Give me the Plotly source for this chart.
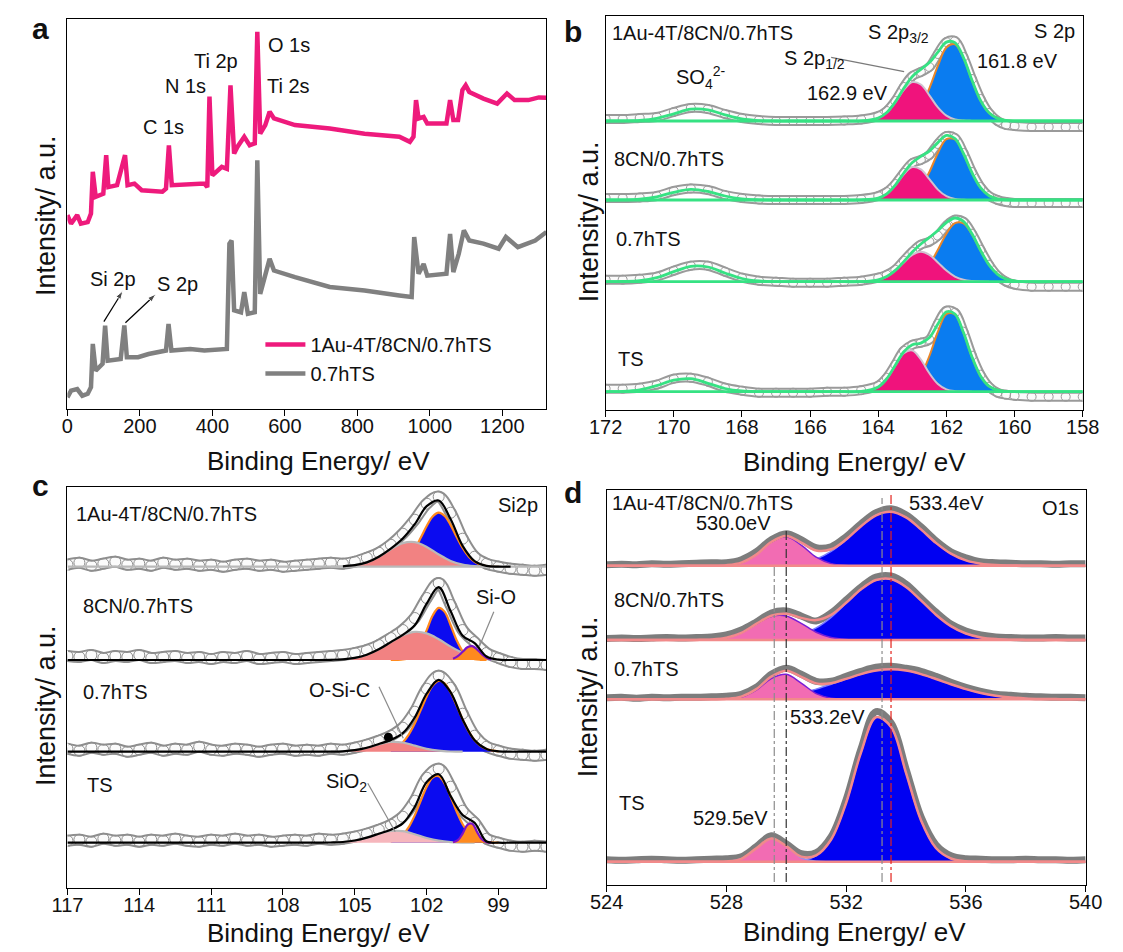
import plotly.graph_objects as go

W, H = 1123, 952
FONT = "Liberation Sans, Arial, Helvetica, sans-serif"

# ---------------- Panel a : survey spectra ----------------
a_be_1au = [0, 10, 27, 37, 56, 65, 70, 78, 99, 107, 113, 137, 159, 166, 185, 205, 262, 272, 280, 288,
            378, 386, 392, 400, 426, 440, 450, 460, 469, 488, 503, 517, 524, 532, 546, 558, 570, 628, 724, 820,
            916, 945, 955, 962, 969, 983, 993, 1046, 1056, 1065, 1078, 1090, 1099, 1109, 1148, 1186, 1213, 1234,
            1272, 1301, 1322]
a_int_1au = [49.7, 47.5, 49.7, 47.5, 47.9, 50.1, 60.8, 54.4, 55.2, 65.1, 56.9, 57.4, 65.1, 57.4, 57.8, 56.1,
             55.7, 56.5, 67.6, 57.4, 57.8, 56.9, 80.1, 59.9, 62.1, 61.6, 83.0, 65.5, 67.2, 69.8, 67.6, 68.1,
             96.7, 70.6, 72.8, 76.2, 74.5, 72.8, 71.9, 70.6, 69.8, 68.5, 69.8, 79.2, 74.5, 74.9, 73.2, 73.2,
             79.2, 74.1, 74.1, 81.8, 83.0, 81.3, 79.6, 78.3, 80.9, 79.2, 79.2, 79.9, 79.8]
a_be_07 = [0, 10, 27, 41, 56, 65, 70, 78, 97, 104, 111, 147, 157, 164, 195, 224, 272, 279, 287, 339,
           378, 440, 447, 453, 460, 479, 488, 498, 517, 524, 532, 543, 558, 570, 628, 724, 820, 916, 950, 957,
           969, 983, 993, 1046, 1056, 1065, 1080, 1094, 1109, 1148, 1190, 1210, 1243, 1291, 1322]
a_int_07 = [3.0, 4.7, 5.1, 3.4, 3.9, 5.6, 16.7, 9.8, 11.6, 21.4, 12.4, 12.8, 21.4, 13.3, 13.3, 14.1, 15.0,
            21.8, 15.0, 15.4, 15.0, 15.4, 42.4, 43.2, 25.3, 24.8, 30.0, 24.4, 24.8, 63.8, 29.5, 33.8, 38.5,
            35.5, 33.8, 31.3, 30.4, 29.1, 28.7, 44.1, 34.7, 37.2, 34.2, 34.7, 44.9, 35.1, 39.8, 45.8, 43.2,
            42.4, 41.1, 44.1, 41.5, 43.2, 45.4]
a_names = ["1Au-4T/8CN/0.7hTS", "0.7hTS"]
a_ticks = [0, 200, 400, 600, 800, 1000, 1200]
# pointer arrows (Si 2p, S 2p): tail and head in axis units
a_arrow_tail_x = [100.6, 160.0]
a_arrow_tail_y = [22.4, 22.1]
a_arrow_head_x = [153.3, 244.6]
a_arrow_head_y = [30.3, 29.5]

# ---------------- Panel b : S 2p ----------------
b_be = [172, 171.5, 171, 170.5, 170, 169.5, 169, 168.5, 168, 167.5, 167, 166.5, 166, 165.5, 165,
        164.5, 164, 163.75, 163.5, 163.25, 163, 162.75, 162.5, 162.25, 162, 161.75, 161.5, 161.25,
        161, 160.75, 160.5, 160.25, 160, 159.5, 159, 158.5, 158]
b_comp_be = [164.5, 164.25, 164, 163.75, 163.5, 163.25, 163, 162.75, 162.5, 162.25, 162, 161.75, 161.5,
             161.25, 161, 160.75, 160.5, 160.25, 160]
b_labels = ["TS", "0.7hTS", "8CN/0.7hTS", "1Au-4T/8CN/0.7hTS"]
b_offset = [18.3, 128.3, 210.0, 289.0]
b_data_ts = [3, 3, 4, 7, 13, 14, 10, 4, 1, -1, -1, -1, -1, 0, 0,
             1.5, 6, 14, 27, 41, 47, 49, 52, 68, 81, 79, 60, 36, 17, 5, -1, -3, -4, -5, -5, -5, -5]
b_data_07 = [2, 2, 3, 5, 11, 16, 16, 10, 4, 1, 0, -1, -1, -1, 0,
             1, 4, 7, 12, 21, 30, 37, 40, 46, 56, 62, 60, 48, 32, 17, 6, 0, -3, -5, -5, -5, -5]
b_data_8cn = [2, 2, 2.5, 4, 9, 11.5, 10, 5, 2, 0.5, 0, 0, 0, 0, 0,
              1, 4, 8, 16, 27, 37, 40, 45, 56, 64, 62, 47, 28, 13, 4, 0, -2, -3, -3, -3, -3, -3]
b_data_1au = [2, 2, 3, 4, 9, 13, 12, 7, 3, 1, 0, 0, 0, 0, 0.5,
              1.5, 5, 10, 20, 34, 45, 49, 54, 67, 79, 80, 64, 42, 22, 8, 0, -4, -5, -6, -6, -6, -6]
b_fit_ts = [0, 0.3, 1.9, 6.1, 11.6, 13.0, 8.4, 3.2, 0.7, 0.1, 0, 0, 0, 0, 0,
            0.2, 4.7, 13.0, 26.5, 40.0, 47.0, 48.6, 54.1, 67.7, 79.9, 77.7, 59.1, 34.8, 15.8, 5.5, 1.5, 0.3, 0, 0, 0, 0, 0]
b_fit_07 = [0, 0.2, 1, 4, 10, 15.4, 14.7, 8.7, 3.2, 0.7, 0.1, 0, 0, 0, 0,
            0.1, 1.9, 5.1, 11.3, 20.1, 29.7, 37.7, 44.2, 51.2, 59.1, 63.7, 60.3, 47.9, 31.4, 16.8, 7.4, 2.6, 0.8, 0, 0, 0, 0]
b_fit_8cn = [0, 0.1, 0.8, 3.2, 7.7, 10.7, 8.6, 4.0, 1.1, 0.2, 0, 0, 0, 0, 0,
             0.1, 1.9, 6.2, 14.9, 27.0, 37.4, 43.6, 48.9, 57.4, 64.6, 61.5, 46.5, 27.3, 12.4, 4.3, 1.2, 0.2, 0, 0, 0, 0, 0]
b_fit_1au = [0, 0.1, 0.5, 2.6, 7.2, 11.8, 11.2, 6.2, 2.0, 0.4, 0, 0, 0, 0, 0,
             0.1, 2.9, 8.5, 19.1, 32.7, 44.5, 51.7, 58.4, 68.9, 78.9, 78.4, 63.4, 40.8, 20.6, 8.2, 2.6, 0.6, 0.1, 0, 0, 0, 0]
b_p12_ts = [0.2, 1.3, 4.7, 13.0, 26.2, 38.4, 41.2, 32.2, 18.4, 7.7, 2.3, 0.5, 0.1, 0, 0, 0, 0, 0, 0]
b_p32_ts = [0, 0, 0, 0.1, 0.3, 1.6, 5.8, 16.4, 35.7, 60.0, 77.6, 77.2, 59.1, 34.8, 15.8, 5.5, 1.5, 0.3, 0]
b_p12_07 = [0.1, 0.6, 1.9, 5.1, 11.1, 19.3, 26.9, 30.0, 26.9, 19.3, 11.1, 5.1, 1.9, 0.6, 0.1, 0, 0, 0, 0]
b_p32_07 = [0, 0, 0, 0, 0.2, 0.8, 2.8, 7.7, 17.3, 31.9, 48.0, 58.6, 58.4, 47.3, 31.3, 16.8, 7.4, 2.6, 0.8]
b_p12_8cn = [0.1, 0.4, 1.9, 6.1, 14.7, 25.7, 32.9, 30.7, 20.9, 10.4, 3.8, 1.0, 0.2, 0, 0, 0, 0, 0, 0]
b_p32_8cn = [0, 0, 0, 0.1, 0.2, 1.3, 4.5, 12.9, 28.0, 47.0, 60.8, 60.5, 46.3, 27.3, 12.4, 4.3, 1.2, 0.2, 0]
b_p12_1au = [0.1, 0.7, 2.9, 8.4, 18.7, 31.1, 38.9, 36.5, 25.7, 13.6, 5.4, 1.6, 0.4, 0.1, 0, 0, 0, 0, 0]
b_p32_1au = [0, 0, 0, 0.1, 0.4, 1.6, 5.6, 15.2, 32.7, 55.3, 73.5, 76.8, 63.0, 40.7, 20.6, 8.2, 2.6, 0.6, 0.1]
b_ticks = [172, 170, 168, 166, 164, 162, 160, 158]

# ---------------- Panel c : Si 2p ----------------
c_be = [117, 116.5, 116, 115.5, 115, 114.5, 114, 113.5, 113, 112.5, 112, 111.5, 111, 110.5, 110, 109.5,
        109, 108.5, 108, 107.5, 107, 106.5, 106, 105.5, 105, 104.5, 104, 103.5, 103, 102.5, 102, 101.5,
        101, 100.5, 100, 99.5, 99, 98.5, 98, 97.5, 97]
c_pink_be = [106, 105.5, 105, 104.5, 104, 103.5, 103, 102.5, 102, 101.5, 101, 100.5, 100, 99.5, 99]
c_blue_be = [103.5, 103.25, 103, 102.75, 102.5, 102.25, 102, 101.75, 101.5, 101.25, 101, 100.75, 100.5,
             100.25, 100, 99.75, 99.5, 99.25, 99]
c_sio_be = [100.9, 100.7, 100.5, 100.3, 100.1, 99.9, 99.7, 99.5, 99.3]
c_labels = ["TS", "0.7hTS", "8CN/0.7hTS", "1Au-4T/8CN/0.7hTS"]
c_offset = [45.3, 136.3, 228.0, 321.3]
c_data_ts = [2, 3, 1, 4, 2, 3, 1, 3, 2, 4, 2, 1, 3, 2, 4, 2, 3, 1, 2, 3, 2, 4, 3,
             4, 6, 9, 13, 18, 26, 42, 65, 74, 56, 32, 20, 4, 0, -3, -4, -3, -4]
c_data_07 = [3, 1, 4, 2, 3, 0, 2, 4, 1, 3, 2, 5, 2, 1, 3, 2, 0, 2, 3, 1, 2, 1, 3,
             2, 4, 7, 11, 16, 24, 40, 63, 76, 64, 38, 16, 5, 1, -2, -3, -4, -3]
c_data_8cn = [4, 3, 5, 2, 4, 3, 5, 2, 3, 4, 2, 3, 1, 3, 2, 4, 1, 2, 3, 1, 2, 3, 4,
              5, 7, 10, 15, 22, 30, 42, 62, 77, 55, 30, 18, 7, 2, -2, -4, -4, -5]
c_data_1au = [2, 4, 1, 3, 5, 2, 3, 1, 4, 2, 3, 1, 2, 0, 2, 3, 1, 2, 0, 1, 2, 3, 4,
              3, 5, 9, 14, 22, 33, 47, 63, 70, 54, 28, 10, 3, 0, -2, -3, -4, -3]
c_fit_ts = [0, 0, 0, 0, 0, 0, 0, 0, 0, 0, 0, 0, 0, 0, 0, 0, 0, 0, 0, 0, 0, 0, 0.2,
            0.7, 2.2, 5.1, 9.0, 13.0, 19.3, 35.8, 60.6, 68.4, 46.6, 27.7, 19.9, 1.2, 0, 0, 0, 0, 0]
c_fit_07 = [0, 0, 0, 0, 0, 0, 0, 0, 0, 0, 0, 0, 0, 0, 0, 0, 0, 0, 0, 0, 0, 0, 0.1,
            0.4, 1.5, 3.9, 7.7, 11.8, 18.5, 34.2, 58.2, 71.9, 59.4, 32.3, 11.5, 2.7, 0.4, 0, 0, 0, 0]
c_fit_8cn = [0, 0, 0, 0, 0, 0, 0, 0, 0, 0, 0, 0, 0, 0, 0, 0, 0, 0, 0, 0, 0, 0, 0.2,
             0.7, 2.2, 5.3, 10.7, 17.9, 25.2, 34.7, 56.4, 72.9, 48.8, 24.3, 16.8, 3.5, 0.3, 0, 0, 0, 0]
c_fit_1au = [0, 0, 0, 0, 0, 0, 0, 0, 0, 0, 0, 0, 0, 0, 0, 0, 0, 0, 0, 0, 0, 0, 0.1,
             0.4, 1.5, 4.3, 10.0, 18.1, 28.2, 42.5, 60.5, 66.2, 47.4, 20.8, 5.5, 0.8, 0, 0, 0, 0, 0]
c_sio2_ts = [0.2, 0.7, 2.2, 5.1, 8.9, 11.7, 11.5, 8.5, 4.7, 2.0, 0.6, 0.1, 0, 0, 0]
c_sio2_07 = [0.1, 0.4, 1.5, 3.9, 7.4, 9.8, 9.2, 6.1, 2.9, 1.0, 0.2, 0, 0, 0, 0]
c_sio2_8cn = [0.2, 0.7, 2.2, 5.3, 10.7, 17.9, 24.7, 28.2, 26.6, 20.8, 13.4, 7.2, 3.2, 1.2, 0.3]
c_sio2_1au = [0.1, 0.4, 1.5, 4.3, 9.9, 17.4, 23.6, 24.6, 19.8, 12.2, 5.8, 2.1, 0.6, 0.1, 0]
c_sic_ts = [1.3, 3.4, 7.8, 15.6, 27.3, 41.8, 55.9, 65.2, 66.4, 59.1, 46.0, 31.2, 18.5, 9.6, 4.3, 1.7, 0.6, 0.2, 0]
c_sic_07 = [2.0, 4.6, 9.3, 17.1, 28.1, 41.6, 55.3, 66.1, 70.9, 68.4, 59.2, 46.1, 32.3, 20.3, 11.5, 5.8, 2.7, 1.1, 0.4]
c_sic_8cn = [0, 0.1, 0.5, 2.1, 6.5, 15.7, 29.8, 44.5, 52.1, 48.1, 34.8, 19.8, 8.9, 3.1, 0.9, 0.2, 0, 0, 0]
c_sic_1au = [0.7, 1.9, 4.6, 9.7, 17.9, 28.9, 40.7, 50.2, 54.0, 50.7, 41.6, 29.8, 18.7, 10.2, 4.9, 2.0, 0.7, 0.2, 0]
c_sio_ts = [0.4, 2.5, 9.1, 17.9, 19.0, 10.9, 3.4, 0.6, 0]
c_sio_8cn = [1.2, 3.8, 8.2, 12.7, 13.8, 10.7, 5.9, 2.3, 0.6]
c_osic_point = [103.6, 14.4]
c_ticks = [117, 114, 111, 108, 105, 102, 99]

# ---------------- Panel d : O 1s ----------------
d_be = [524, 524.5, 525, 525.5, 526, 526.5, 527, 527.5, 528, 528.5, 529, 529.5, 530, 530.5, 531, 531.5,
        532, 532.5, 533, 533.5, 534, 534.5, 535, 535.5, 536, 536.5, 537, 537.5, 538, 538.5, 539, 539.5, 540]
d_pink_be = [527, 527.5, 528, 528.5, 529, 529.5, 530, 530.5, 531, 531.5, 532, 532.5]
d_blue_be = [527.5, 528, 528.5, 529, 529.5, 530, 530.5, 531, 531.5, 532, 532.5, 533, 533.5, 534, 534.5,
             535, 535.5, 536, 536.5, 537, 537.5, 538, 538.5, 539]
d_labels = ["TS", "0.7hTS", "8CN/0.7hTS", "1Au-4T/8CN/0.7hTS"]
d_offset = [23.3, 185.7, 245.0, 319.3]
d_data_ts = [2, 1.5, 2, 2.5, 2, 1.5, 2, 2.5, 3, 5, 15, 26, 18, 8, 9, 25, 62, 113, 150, 139, 93, 45, 17, 6,
             3, 2.5, 2, 2, 2.5, 2, 2, 1.5, 2]
d_data_07 = [1.5, 2, 1, 2, 1.5, 2, 2, 2.5, 3, 5, 12, 25, 31, 25, 18, 18, 23, 28, 32, 33, 31, 28, 23, 17,
             12, 8, 5, 4, 3, 2.5, 2, 2, 1.5]
d_data_8cn = [1.5, 2, 1.5, 2, 2.5, 2, 2.5, 3, 5, 10, 18, 27, 29, 24, 19, 27, 40, 53, 63, 64, 56, 42, 28, 16,
              9, 5, 3, 2.5, 2, 2, 2.5, 2, 2]
d_data_1au = [1, 1.5, 1, 2, 1.5, 2, 2.5, 3, 3, 6, 14, 26, 32, 26, 18, 19, 29, 42, 53, 57, 51, 39, 25, 14,
              8, 4, 3, 2.5, 2, 2, 1.5, 2, 2]
d_fit_ts = [0, 0, 0, 0, 0, 0, 0, 0, 0.2, 2.9, 13.3, 23.2, 15.7, 5.1, 6.4, 22.2, 58.7, 109.4, 144.4, 134.8,
            88.9, 41.5, 13.7, 3.2, 0.5, 0, 0, 0, 0, 0, 0, 0, 0]
d_fit_07 = [0, 0, 0, 0, 0, 0, 0, 0.1, 0.5, 2.7, 10.2, 22.7, 28.6, 22.5, 15.9, 16.1, 20.4, 25.2, 28.7, 30.0,
            28.7, 25.2, 20.3, 15.0, 10.2, 6.3, 3.6, 1.9, 0.9, 0.4, 0.2, 0, 0]
d_fit_8cn = [0, 0, 0, 0, 0, 0, 0.1, 0.5, 2.3, 7.2, 16.1, 24.3, 26.2, 22.1, 19.9, 25.2, 37.2, 50.7, 60.0,
             61.0, 53.1, 39.6, 25.3, 13.9, 6.5, 2.6, 0.9, 0.3, 0.1, 0, 0, 0, 0]
d_fit_1au = [0, 0, 0, 0, 0, 0, 0, 0, 0.5, 3.1, 11.1, 23.7, 29.7, 23.1, 15.2, 16.4, 26.2, 39.5, 50.4, 53.9,
             48.3, 36.3, 22.8, 12.0, 5.3, 2.0, 0.6, 0.2, 0, 0, 0, 0, 0]
d_lat_ts = [0, 0, 0.2, 2.9, 13.3, 23.2, 15.5, 4.0, 0.4, 0, 0, 0]
d_lat_07 = [0, 0, 0.3, 2.3, 9.3, 20.8, 25.0, 16.2, 5.7, 1.1, 0.1, 0]
d_lat_8cn = [0.1, 0.5, 2.3, 7.2, 15.9, 23.6, 24.0, 16.6, 7.8, 2.5, 0.5, 0.1]
d_lat_1au = [0, 0, 0.5, 3.1, 11.1, 23.5, 28.9, 20.6, 8.6, 2.1, 0.3, 0]
d_oh_ts = [0, 0, 0, 0, 0, 0.2, 1.1, 6.0, 22.2, 58.7, 109.4, 144.4, 134.8, 88.9, 41.5, 13.7, 3.2, 0.5,
           0, 0, 0, 0, 0, 0]
d_oh_07 = [0.1, 0.2, 0.4, 0.9, 1.9, 3.6, 6.3, 10.2, 15.0, 20.3, 25.2, 28.7, 30.0, 28.7, 25.2, 20.3, 15.0,
           10.2, 6.3, 3.6, 1.9, 0.9, 0.4, 0.2]
d_oh_8cn = [0, 0, 0, 0.2, 0.7, 2.2, 5.5, 12.1, 22.7, 36.7, 50.6, 60.0, 61.0, 53.1, 39.6, 25.3, 13.9, 6.5,
            2.6, 0.9, 0.3, 0.1, 0, 0]
d_oh_1au = [0, 0, 0, 0, 0.2, 0.8, 2.5, 6.6, 14.3, 25.9, 39.5, 50.4, 53.9, 48.3, 36.3, 22.8, 12.0, 5.3,
            2.0, 0.6, 0.2, 0, 0, 0]
d_ref_be = [529.6, 530.0, 533.2, 533.5]
d_ref_top = [318, 357, 387, 390]
d_ref_color = ["#8c8c8c", "#333333", "#8c8c8c", "#e3231c"]
d_ticks = [524, 528, 532, 536, 540]

# ---------------- figure ----------------
fig = go.Figure()


def px(x):
    return x / W


def py(y):
    return 1 - y / H


def trim(xs, vals):
    idx = [k for k, v in enumerate(vals) if v > 0.05]
    lo, hi = max(idx[0] - 1, 0), min(idx[-1] + 1, len(vals) - 1)
    return xs[lo:hi + 1], vals[lo:hi + 1]


def add_fill(xs, off, vals, fillcolor, linecolor, lw, xa, ya):
    xs, vals = trim(xs, vals)
    fig.add_trace(go.Scatter(x=xs, y=[off] * len(xs), mode="lines", xaxis=xa, yaxis=ya,
                             line=dict(width=0, color="rgba(0,0,0,0)", shape="spline"),
                             showlegend=False, hoverinfo="skip"))
    fig.add_trace(go.Scatter(x=xs, y=[off + v for v in vals], mode="lines", fill="tonexty",
                             fillcolor=fillcolor, xaxis=xa, yaxis=ya,
                             line=dict(width=lw, color=linecolor, shape="spline"),
                             showlegend=False, hoverinfo="skip"))


def add_line(xs, ys, color, width, xa, ya, shape="spline", dash=None):
    fig.add_trace(go.Scatter(x=xs, y=ys, mode="lines", xaxis=xa, yaxis=ya,
                             line=dict(width=width, color=color, shape=shape, dash=dash),
                             showlegend=False, hoverinfo="skip"))


def add_tube(xs, ys, outer, w_out, w_in, msize, xa, ya):
    add_line(xs, ys, outer, w_out, xa, ya)
    add_line(xs, ys, "#fbfbfb", w_in, xa, ya)
    fig.add_trace(go.Scatter(x=xs, y=ys, mode="markers", xaxis=xa, yaxis=ya,
                             marker=dict(symbol="circle-open", size=msize,
                                         line=dict(width=1, color=outer), color=outer),
                             showlegend=False, hoverinfo="skip"))


# Panel a
PINK_A = "#ee1a7c"
GRAY_A = "#808080"
fig.add_trace(go.Scatter(x=a_be_1au, y=a_int_1au, mode="lines", name=a_names[0],
                         line=dict(color=PINK_A, width=4.5), xaxis="x", yaxis="y"))
fig.add_trace(go.Scatter(x=a_be_07, y=a_int_07, mode="lines", name=a_names[1],
                         line=dict(color=GRAY_A, width=4.5), xaxis="x", yaxis="y"))
for tx, ty, hx, hy in zip(a_arrow_tail_x, a_arrow_tail_y, a_arrow_head_x, a_arrow_head_y):
    fig.add_trace(go.Scatter(x=[tx, hx], y=[ty, hy], mode="lines+markers", xaxis="x", yaxis="y",
                             line=dict(color="black", width=1.2),
                             marker=dict(symbol="arrow", size=[0, 9], angleref="previous", color="black"),
                             showlegend=False, hoverinfo="skip"))

# Panel b
GREEN = "#36e283"
b_data = [b_data_ts, b_data_07, b_data_8cn, b_data_1au]
b_fit = [b_fit_ts, b_fit_07, b_fit_8cn, b_fit_1au]
b_p12 = [b_p12_ts, b_p12_07, b_p12_8cn, b_p12_1au]
b_p32 = [b_p32_ts, b_p32_07, b_p32_8cn, b_p32_1au]
for i in range(4):
    off = b_offset[i]
    add_tube(b_be, [off + v for v in b_data[i]], "#9a9a9a", 10, 6, 9, "x2", "y2")
    add_fill(b_comp_be, off, b_p32[i], "#0a7cf0", "#e8862a", 2, "x2", "y2")
    add_fill(b_comp_be, off, b_p12[i], "#f0137c", "#cfc2d0", 2, "x2", "y2")
    add_line(b_be, [off + v for v in b_fit[i]], GREEN, 2.8, "x2", "y2")
    add_line([b_be[0], b_be[-1]], [off, off], GREEN, 2.8, "x2", "y2", shape="linear")

# Panel c
c_data = [c_data_ts, c_data_07, c_data_8cn, c_data_1au]
c_fit = [c_fit_ts, c_fit_07, c_fit_8cn, c_fit_1au]
c_sio2 = [c_sio2_ts, c_sio2_07, c_sio2_8cn, c_sio2_1au]
c_sic = [c_sic_ts, c_sic_07, c_sic_8cn, c_sic_1au]
c_sio = [c_sio_ts, None, c_sio_8cn, None]
c_pinkfill = ["#f6b6bc", "#f28282", "#f28282", "#f28282"]
for i in range(4):
    off = c_offset[i]
    add_tube(c_be, [off + v for v in c_data[i]], "#8e8e8e", 12, 8, 11, "x3", "y3")
    add_fill(c_blue_be, off, c_sic[i], "#0b0bf0", "#ff8a1e", 2.2, "x3", "y3")
    add_fill(c_pink_be, off, c_sio2[i], c_pinkfill[i], "#b9b9b9", 2.2, "x3", "y3")
    if c_sio[i] is not None:
        add_fill(c_sio_be, off, c_sio[i], "#ff8a1e", "#7d12c8", 2.2, "x3", "y3")
    if i == 3:
        add_line([c_be[0], c_be[-1]], [off, off], "#b9b9b9", 2.2, "x3", "y3", shape="linear")
        xs = [e for e in c_be if 98.5 <= e <= 105.5]
        ys = [off + v for e, v in zip(c_be, c_fit[i]) if 98.5 <= e <= 105.5]
        add_line(xs, ys, "black", 2.2, "x3", "y3")
    else:
        add_line(c_be, [off + v for v in c_fit[i]], "black", 2.2, "x3", "y3")
fig.add_trace(go.Scatter(x=[c_osic_point[0]], y=[c_offset[1] + c_osic_point[1]], mode="markers",
                         marker=dict(color="black", size=9), xaxis="x3", yaxis="y3",
                         showlegend=False, hoverinfo="skip"))

# Panel d
d_data = [d_data_ts, d_data_07, d_data_8cn, d_data_1au]
d_fit = [d_fit_ts, d_fit_07, d_fit_8cn, d_fit_1au]
d_lat = [d_lat_ts, d_lat_07, d_lat_8cn, d_lat_1au]
d_oh = [d_oh_ts, d_oh_07, d_oh_8cn, d_oh_1au]
d_lat_line = ["#8f8ff5", "#7a1fd6", "#7a1fd6", "#7a1fd6"]
for i in range(4):
    off = d_offset[i]
    add_line(d_be, [off + v for v in d_data[i]], "#7d7d7d", 7, "x4", "y4")
    add_fill(d_blue_be, off, d_oh[i], "#0000f2", "#7a7aff", 1.5, "x4", "y4")
    add_fill(d_pink_be, off, d_lat[i], "#f26cb3", d_lat_line[i], 1.5, "x4", "y4")
    add_line(d_be, [off + v for v in d_fit[i]], "#f28a8a", 2.5, "x4", "y4")
    add_line([d_be[0], d_be[-1]], [off, off], "#f28a8a", 2.5, "x4", "y4", shape="linear")
for xe, top, col in zip(d_ref_be, d_ref_top, d_ref_color):
    add_line([xe, xe], [3, top], col, 1.2, "x4", "y4", shape="linear", dash="dashdot")

# ---------------- axes ----------------
axis_common = dict(showline=True, mirror=True, linecolor="black", linewidth=1.3, showgrid=False,
                   zeroline=False)
xtick = dict(ticks="outside", ticklen=6, tickwidth=1.2, tickcolor="black", ticklabelstandoff=-7,
             tickfont=dict(family=FONT, size=20, color="#111"))
ynone = dict(ticks="", showticklabels=False)

dom_a = ([px(52), px(546)], [py(409), py(19)])
dom_b = ([px(607), px(1099)], [py(410), py(16)])
dom_c = ([px(52), px(546)], [py(888), py(487)])
dom_d = ([px(608), px(1102)], [py(885), py(490)])

fig.update_layout(
    xaxis=dict(domain=dom_a[0], range=[0, 1322], tickvals=a_ticks, anchor="y", **axis_common, **xtick),
    yaxis=dict(domain=dom_a[1], range=[0, 100], anchor="x", **axis_common, **ynone),
    xaxis2=dict(domain=dom_b[0], range=[172, 158], tickvals=b_ticks, anchor="y2", **axis_common, **xtick),
    yaxis2=dict(domain=dom_b[1], range=[0, 394], anchor="x2", **axis_common, **ynone),
    xaxis3=dict(domain=dom_c[0], range=[117, 97], tickvals=c_ticks, anchor="y3", **axis_common, **xtick),
    yaxis3=dict(domain=dom_c[1], range=[0, 401], anchor="x3", **axis_common, **ynone),
    xaxis4=dict(domain=dom_d[0], range=[524, 540], tickvals=d_ticks, anchor="y4", **axis_common, **xtick),
    yaxis4=dict(domain=dom_d[1], range=[0, 395], anchor="x4", **axis_common, **ynone),
)

# ---------------- text ----------------
ann = []
shapes = []


def text(t, x, y, xanchor="left", size=20, bold=False, angle=0):
    ann.append(dict(text=("<b>%s</b>" % t) if bold else t, x=px(x), y=py(y), xref="paper", yref="paper",
                    xanchor=xanchor, yanchor="middle", showarrow=False, textangle=angle,
                    font=dict(family=FONT, size=size, color="#111")))


def leader(x0, y0, x1, y1, color):
    shapes.append(dict(type="line", xref="paper", yref="paper", x0=px(x0), y0=py(y0), x1=px(x1),
                       y1=py(y1), line=dict(color=color, width=1.2)))


# panel letters
text("a", 24, 28, "center", 30, True)
text("b", 573, 32, "center", 30, True)
text("c", 24, 486, "center", 30, True)
text("d", 573, 492, "center", 30, True)

# axis titles
for cx, cy in [(311, 461), (864, 462), (311, 933), (864, 932)]:
    text("Binding Energy/ eV", cx, cy, "center", 26)
for cx, cy in [(30, 216), (590, 222), (30, 706), (589, 697)]:
    text("Intensity/ a.u.", cx, cy, "center", 27, angle=-90)

# panel a labels
text("C 1s", 151, 127, "center")
text("N 1s", 174, 86, "center")
text("Ti 2p", 205, 61, "center")
text("O 1s", 281, 45, "center")
text("Ti 2s", 280, 86, "center")
text("Si 2p", 99, 279, "center")
text("S 2p", 166, 284, "center")

# panel b labels
text(b_labels[3], 612, 33)
text(b_labels[2], 614, 159)
text(b_labels[1], 616, 239)
text(b_labels[0], 618, 359)
text("S 2p", 1093, 31, "right")
text("S 2p<sub>3/2</sub>", 875, 34)
text("S 2p<sub>1/2</sub>", 789, 59)
text("161.8 eV", 988, 61)
text("162.9 eV", 813, 93)
text("SO<sub>4</sub><sup>2-</sup>", 678, 77)
leader(839.6, 57.3, 914.8, 71.7, "#7a7a7a")

# panel c labels
text(c_labels[3], 59, 514)
text(c_labels[2], 66, 606)
text(c_labels[1], 66, 692)
text(c_labels[0], 70, 785)
text("Si2p", 539, 505, "right")
text("Si-O", 494, 597, "center")
text("O-Si-C", 333, 690, "center")
text("SiO<sub>2</sub>", 317, 782)
leader(491.7, 611.7, 476.7, 646.7, "#8a8a8a")
leader(373.3, 686.7, 398.3, 738.3, "#8a8a8a")
leader(361.7, 783.3, 390.0, 831.7, "#8a8a8a")

# panel d labels
text(d_labels[3], 611, 503)
text("530.0eV", 698, 523)
text("533.4eV", 918, 503)
text("O1s", 1097, 508, "right")
text(d_labels[2], 614, 600)
text(d_labels[1], 614, 669)
text("533.2eV", 795, 717)
text(d_labels[0], 619, 803)
text("529.5eV", 695, 818)

fig.update_layout(
    width=W, height=H, margin=dict(l=0, r=0, t=0, b=0),
    paper_bgcolor="white", plot_bgcolor="white",
    font=dict(family=FONT, size=20, color="#111"),
    annotations=ann, shapes=shapes,
    showlegend=True,
    legend=dict(x=px(251), y=py(325), xanchor="left", yanchor="top", bgcolor="rgba(0,0,0,0)",
                traceorder="normal", font=dict(family=FONT, size=20, color="#111"),
                tracegroupgap=0, itemwidth=40),
)

fig.write_html("out.html", config={"displayModeBar": False},
               post_script="document.body.style.margin='0px';")
